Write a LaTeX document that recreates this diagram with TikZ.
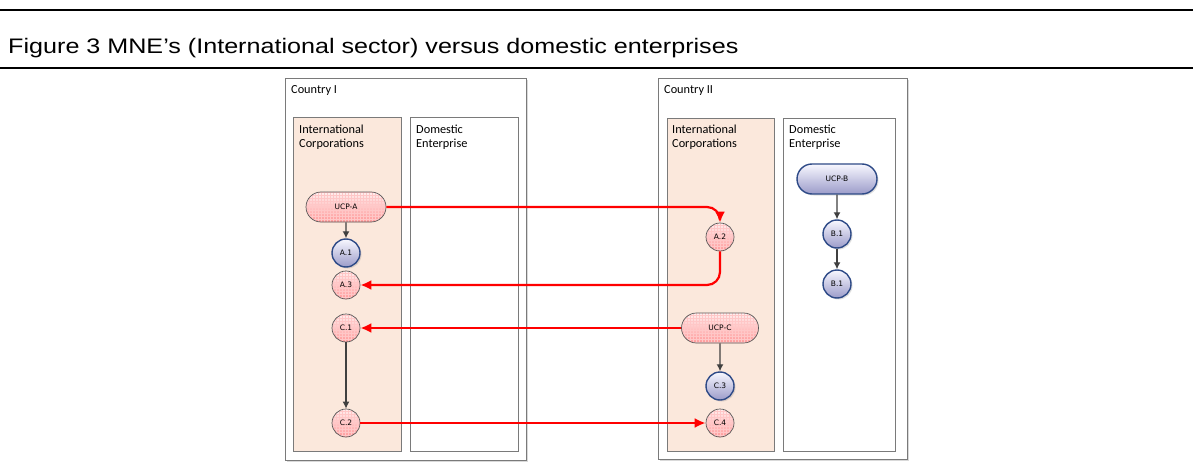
\documentclass[tikz,border=0pt]{standalone}
\usepackage{fontspec}
\setmainfont{Carlito}
\newfontfamily\titlefont{Liberation Sans}
\newfontfamily\nodefont{DejaVu Sans}
\usetikzlibrary{patterns,shadows,shapes.misc,arrows.meta}

\definecolor{sectorfill}{HTML}{FBE8DC}
\definecolor{frameline}{HTML}{7A7A7A}
\definecolor{blueline}{HTML}{2E4A87}
\definecolor{linkred}{HTML}{FF0000}
\definecolor{flowgray}{HTML}{404040}

\tikzset{
  countrybox/.style={draw=frameline,line width=.8pt,fill=white,
    drop shadow={shadow xshift=2pt,shadow yshift=-2pt,fill=black!15,opacity=1}},
  sectorbox/.style={draw=frameline,line width=1pt},
  boxlabel/.style={anchor=north west,inner sep=0pt,align=left,
    font=\fontsize{12.3}{13.5}\selectfont},
  rednode/.style={draw=black!65,line width=.7pt,
    preaction={top color=red!6,bottom color=red!40},
    pattern=grid,pattern color=red!22,
    font=\nodefont\fontsize{7.5}{9}\selectfont,inner sep=0pt},
  bluenode/.style={draw=blueline,line width=1.4pt,
    top color=blue!3!white,bottom color=blue!30!gray!60,
    drop shadow={shadow xshift=1.5pt,shadow yshift=-1.5pt,opacity=.25},
    font=\nodefont\fontsize{7.5}{9}\selectfont,inner sep=0pt},
  ucp/.style={rounded rectangle,minimum width=80pt,minimum height=30pt},
  unit/.style={circle,minimum size=28pt},
  flow/.style={-{Latex[length=7pt,width=7pt]},draw=flowgray,line width=1.3pt},
  link/.style={-{Latex[length=11pt,width=10pt]},draw=linkred,line width=2.2pt,
    rounded corners=13pt}
}

\begin{document}
\begin{tikzpicture}[x=1pt,y=-1pt]
  \useasboundingbox (0,0) rectangle (1193,465);
  % caption with rules
  \draw[line width=2pt] (0,10) -- (1193,10);
  \draw[line width=2pt] (0,68) -- (1193,68);
  \node[anchor=base west,inner sep=0pt,xscale=1.197,
    font=\titlefont\fontsize{21}{24}\selectfont]
    (caption) at (8,54) {Figure 3 MNE’s (International sector) versus domestic enterprises};
  %
  % Country I
  \node[countrybox,minimum width=241pt,minimum height=382pt,anchor=north west]
    (countryI) at (285,78) {};
  \draw[sectorbox,fill=sectorfill] (293,118) rectangle (401,451);
  \draw[sectorbox,fill=white] (410,118) rectangle (518,451);
  \node[boxlabel] (labI) at (291,85) {Country I};
  \node[boxlabel] (intI) at (299,125) {International\\Corporations};
  \node[boxlabel] (domI) at (416,125) {Domestic\\Enterprise};
  %
  % Country II
  \node[countrybox,minimum width=249pt,minimum height=381pt,anchor=north west]
    (countryII) at (658,78) {};
  \draw[sectorbox,fill=sectorfill] (667,119) rectangle (774,451);
  \draw[sectorbox,fill=white] (783,119) rectangle (895,451);
  \node[boxlabel] (labII) at (664,85) {Country II};
  \node[boxlabel] (intII) at (672,125) {International\\Corporations};
  \node[boxlabel] (domII) at (789,125) {Domestic\\Enterprise};
  %
  % enterprises
  \node[rednode,ucp] (ucpA) at (346,207) {UCP-A};
  \node[bluenode,unit] (a1) at (346,253) {A.1};
  \node[rednode,unit] (a3) at (346,285) {A.3};
  \node[rednode,unit] (c1) at (346,328) {C.1};
  \node[rednode,unit] (c2) at (346,423) {C.2};
  \node[rednode,unit] (a2) at (720,237) {A.2};
  \node[rednode,ucp,minimum width=77pt] (ucpC) at (720,328) {UCP-C};
  \node[bluenode,unit] (c3) at (720,386) {C.3};
  \node[rednode,unit] (c4) at (720,423) {C.4};
  \node[bluenode,ucp] (ucpB) at (837,179) {UCP-B};
  \node[bluenode,unit] (b1) at (837,234) {B.1};
  \node[bluenode,unit] (b2) at (837,284) {B.1};
  %
  % control inside each group
  \draw[flow] (ucpA) -- (a1);
  \draw[flow] (c1) -- (c2);
  \draw[flow] (ucpC) -- (c3);
  \draw[flow] (ucpB) -- (b1);
  \draw[flow] (b1) -- (b2);
  %
  % links across the border
  \draw[link] (ucpA.east) -| (a2.north);
  \draw[link] (a2.south) |- (a3.east);
  \draw[link] (ucpC.west) -- (c1.east);
  \draw[link] (c2.east) -- (c4.west);
\end{tikzpicture}
\end{document}
